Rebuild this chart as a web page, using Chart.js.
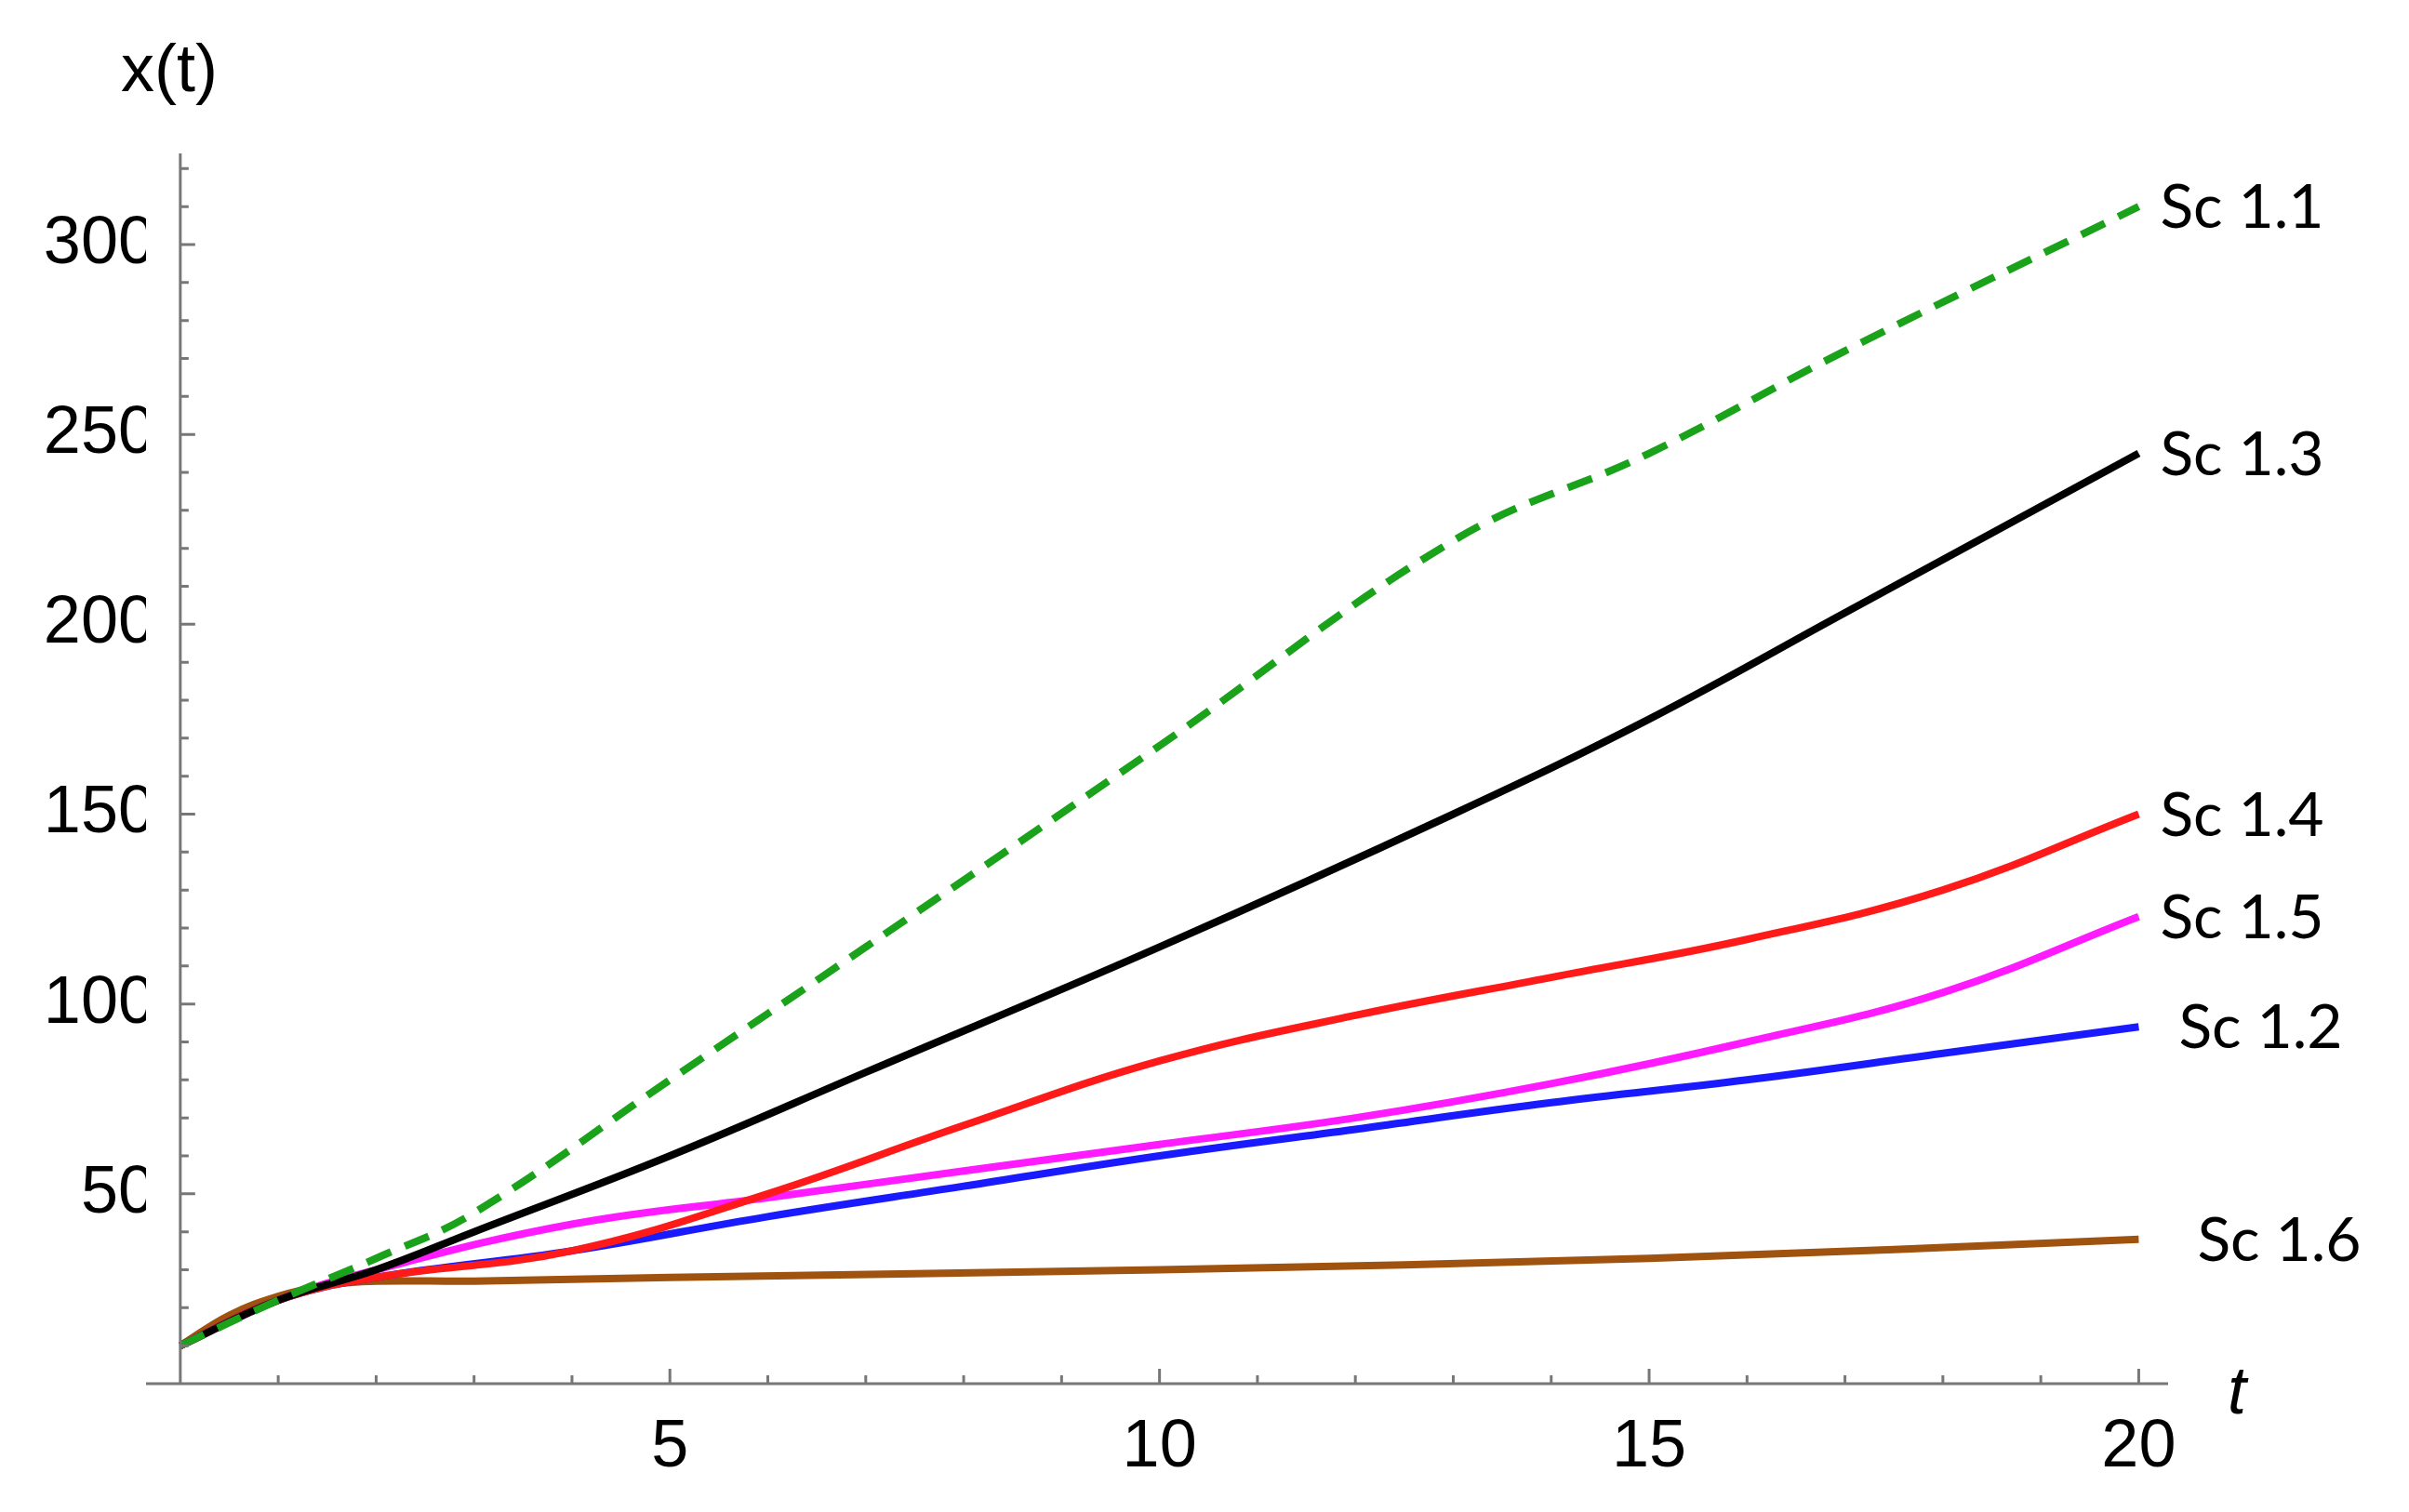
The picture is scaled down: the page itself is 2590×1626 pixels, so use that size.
<!DOCTYPE html>
<html>
<head>
<meta charset="utf-8">
<script src="https://cdn.jsdelivr.net/npm/chart.js@4"></script>
<style>
  html, body { margin: 0; padding: 0; background: #fff; }
  #wrap { width: 2590px; height: 1626px; }
</style>
</head>
<body>
<div id="wrap"><canvas id="c"></canvas></div>
<script>
// series values (t, x)
const tSc11 = [0, 1, 2, 3, 5, 7, 10, 13, 15, 17, 20];
const xSc11 = [10, 22, 33, 45, 80, 115, 168, 222, 245, 272, 310];
const tSc13 = [0, 1, 2, 3, 5, 7, 10, 13, 15, 17, 20];
const xSc13 = [10, 22, 30, 40, 60, 82, 115, 150, 175, 203, 245];
const tSc14 = [0, 1, 2, 4, 6, 8, 10, 12, 14, 16, 18, 20];
const xSc14 = [10, 22, 28, 35, 50, 68, 85, 97, 107, 117, 130, 150];
const tSc15 = [0, 1, 2, 4, 6, 8, 10, 12, 14, 16, 18, 20];
const xSc15 = [10, 22, 30, 42, 49, 56, 63, 70, 79, 90, 103, 123];
const tSc12 = [0, 1, 2, 4, 6, 8, 10, 12, 14, 16, 18, 20];
const xSc12 = [10, 22, 28, 35, 44, 52, 60, 67, 74, 80, 87, 94];
const tSc16 = [0, 0.5, 1, 1.5, 2, 3, 5, 10, 15, 20];
const xSc16 = [10, 18, 23, 26, 27, 27, 28, 30, 33, 38];

const xTicks = [5, 10, 15, 20];
const yTicks = [50, 100, 150, 200, 250, 300];

const pts = (ts, xs) => ts.map((t, i) => ({ x: t, y: xs[i] }));

function series(label, ts, xs, color, dash) {
    return {
        label: label,
        data: pts(ts, xs),
        borderColor: color,
        borderWidth: 8,
        borderDash: dash || [],
        pointRadius: 0,
        tension: 0.4,
        fill: false
    };
}

// small tick marks, axis lines, end labels
const decor = {
    id: 'decor',
    afterDraw(chart) {
        const ctx = chart.ctx;
        const xs = chart.scales.x, ys = chart.scales.y;
        const x0 = xs.getPixelForValue(0), y0 = ys.getPixelForValue(0);
        const area = chart.chartArea;
        ctx.save();
        ctx.strokeStyle = '#777';
        ctx.lineWidth = 3;
        ctx.beginPath();
        ctx.moveTo(area.left, y0); ctx.lineTo(area.right, y0);
        ctx.moveTo(x0, area.top); ctx.lineTo(x0, y0);
        for (let t = 1; t <= 20; t++) {
            const px = xs.getPixelForValue(t);
            const len = t % 5 === 0 ? 16 : 9;
            ctx.moveTo(px, y0); ctx.lineTo(px, y0 - len);
        }
        for (let v = 10; v <= 320; v += 10) {
            const py = ys.getPixelForValue(v);
            const len = v % 50 === 0 ? 16 : 9;
            ctx.moveTo(x0, py); ctx.lineTo(x0 + len, py);
        }
        ctx.stroke();

        ctx.fillStyle = '#000';
        ctx.font = '66px Lato';
        ctx.textBaseline = 'middle';
        const offs = { 'Sc 1.6': 40, 'Sc 1.2': 20 };
        chart.data.datasets.forEach(ds => {
            const last = ds.data[ds.data.length - 1];
            ctx.fillText(ds.label, xs.getPixelForValue(last.x) + 28 + (offs[ds.label] || 0) - 5, ys.getPixelForValue(last.y) + 2);
        });

        ctx.font = '72px "Liberation Sans"';
        ctx.fillText('x(t)', 130, 78);
        ctx.font = 'italic 72px "Liberation Sans"';
        ctx.fillText('t', 2395, 1500);
        ctx.restore();
    }
};

new Chart(document.getElementById('c'), {
    type: 'line',
    data: {
        datasets: [
            series('Sc 1.1', tSc11, xSc11, '#1aa31a', [28, 16]),
            series('Sc 1.3', tSc13, xSc13, '#000000'),
            series('Sc 1.4', tSc14, xSc14, '#ff1a1a'),
            series('Sc 1.5', tSc15, xSc15, '#ff1aff'),
            series('Sc 1.2', tSc12, xSc12, '#1a1aff'),
            series('Sc 1.6', tSc16, xSc16, '#a0520f')
        ]
    },
    options: {
        responsive: true,
        maintainAspectRatio: false,
        animation: false,
        layout: { padding: { top: 165, right: 259, left: 0, bottom: 0 } },
        plugins: { legend: { display: false }, tooltip: { enabled: false } },
        scales: {
            x: {
                type: 'linear',
                min: -0.35, max: 20.3,
                afterFit: s => { s.height = 138; },
                afterBuildTicks: s => { s.ticks = xTicks.map(v => ({ value: v })); },
                grid: { display: false },
                border: { display: false },
                ticks: { color: '#000', font: { size: 72, family: 'Liberation Sans' }, padding: 18, maxRotation: 0 }
            },
            y: {
                min: 0, max: 324,
                afterFit: s => { s.width = 157; },
                afterBuildTicks: s => { s.ticks = yTicks.map(v => ({ value: v })); },
                grid: { display: false },
                border: { display: false },
                ticks: { color: '#000', font: { size: 72, family: 'Liberation Sans' }, padding: -18 }
            }
        }
    },
    plugins: [decor]
});
</script>
</body>
</html>
